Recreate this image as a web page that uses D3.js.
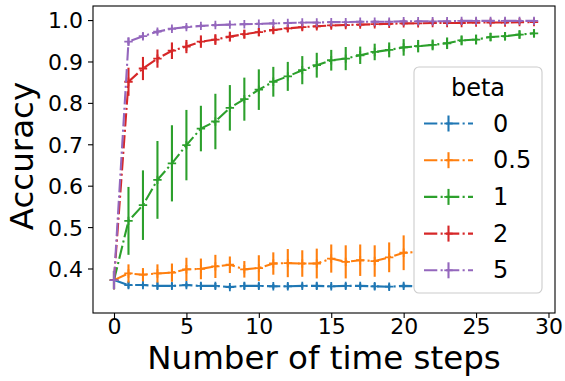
<!DOCTYPE html>
<html><head><meta charset="utf-8">
<script src="https://cdn.jsdelivr.net/npm/d3@7"></script>
<style>
html,body{margin:0;padding:0;background:#fff;}
svg{display:block;font-family:"DejaVu Sans",sans-serif;}
</style></head>
<body>
<svg id="chart" width="565" height="381"></svg>
<script>
const steps = [0,1,2,3,4,5,6,7,8,9,10,11,12,13,14,15,16,17,18,19,20,21,22,23,24,25,26,27,28,29];
const betaLabels = ["0","0.5","1","2","5"];
const colors = ["#1f77b4","#ff7f0e","#2ca02c","#d62728","#9467bd"];

const mean0 = [0.372,0.360,0.360,0.358,0.358,0.360,0.358,0.358,0.355,0.358,0.358,0.357,0.357,0.358,0.358,0.357,0.358,0.358,0.357,0.356,0.358,0.357,0.358,0.357,0.358,0.357,0.357,0.358,0.357,0.358];
const err0  = [0.022,0.008,0.006,0.008,0.007,0.006,0.008,0.007,0.005,0.008,0.007,0.006,0.007,0.006,0.008,0.006,0.007,0.006,0.008,0.007,0.006,0.007,0.006,0.007,0.006,0.007,0.006,0.007,0.006,0.007];

const mean05 = [0.372,0.388,0.385,0.388,0.390,0.398,0.399,0.405,0.409,0.398,0.401,0.412,0.413,0.412,0.412,0.424,0.416,0.420,0.418,0.427,0.438,0.440,0.444,0.447,0.450,0.452,0.455,0.458,0.460,0.462];
const err05  = [0.022,0.022,0.016,0.022,0.022,0.028,0.025,0.028,0.020,0.020,0.031,0.027,0.034,0.032,0.036,0.034,0.040,0.038,0.038,0.036,0.042,0.040,0.042,0.040,0.042,0.042,0.040,0.042,0.042,0.040];

const mean1 = [0.372,0.515,0.553,0.614,0.654,0.698,0.738,0.755,0.788,0.809,0.832,0.851,0.864,0.879,0.891,0.903,0.907,0.915,0.923,0.928,0.934,0.937,0.940,0.944,0.951,0.953,0.959,0.961,0.965,0.968];
const err1  = [0.022,0.082,0.084,0.094,0.092,0.085,0.055,0.067,0.055,0.052,0.049,0.036,0.035,0.034,0.030,0.025,0.028,0.021,0.020,0.018,0.020,0.015,0.013,0.014,0.012,0.012,0.010,0.010,0.010,0.010];

const mean2 = [0.372,0.851,0.883,0.907,0.926,0.936,0.948,0.953,0.960,0.966,0.971,0.976,0.980,0.983,0.985,0.987,0.988,0.989,0.990,0.991,0.992,0.992,0.993,0.993,0.993,0.994,0.994,0.994,0.995,0.995];
const err2  = [0.022,0.034,0.028,0.022,0.020,0.016,0.015,0.013,0.012,0.011,0.010,0.009,0.008,0.008,0.007,0.007,0.006,0.006,0.006,0.005,0.005,0.005,0.005,0.005,0.005,0.004,0.004,0.004,0.004,0.004];

const mean5 = [0.372,0.948,0.961,0.972,0.979,0.983,0.986,0.988,0.989,0.990,0.991,0.992,0.993,0.994,0.994,0.995,0.995,0.996,0.996,0.996,0.997,0.997,0.997,0.997,0.998,0.998,0.998,0.998,0.998,0.998];
const err5  = [0.022,0.010,0.008,0.006,0.005,0.005,0.004,0.004,0.003,0.003,0.003,0.003,0.003,0.003,0.003,0.003,0.003,0.003,0.003,0.003,0.003,0.003,0.003,0.003,0.003,0.003,0.003,0.003,0.003,0.003];

const xTicks = [0,5,10,15,20,25,30];
const yTicks = [0.4,0.5,0.6,0.7,0.8,0.9,1.0];

const series = [
  {label:betaLabels[0], color:colors[0], mean:mean0, err:err0},
  {label:betaLabels[1], color:colors[1], mean:mean05, err:err05},
  {label:betaLabels[2], color:colors[2], mean:mean1, err:err1},
  {label:betaLabels[3], color:colors[3], mean:mean2, err:err2},
  {label:betaLabels[4], color:colors[4], mean:mean5, err:err5}
];

const L = 93, R = 555, T = 6, B = 313;
const x = d3.scaleLinear().domain([-1.45, 30.45]).range([L, R]);
const y = d3.scaleLinear().domain([0.2925, 1.034]).range([B, T]);
const svg = d3.select("#chart");
const dash = "13.3,3.3,2.1,3.3";
const LW = 2.1;

svg.append("defs").append("clipPath").attr("id","clip")
  .append("rect").attr("x",L).attr("y",T).attr("width",R-L).attr("height",B-T);

const plot = svg.append("g").attr("clip-path","url(#clip)");
const line = d3.line().x((d,i)=>x(steps[i])).y(d=>y(d));

series.forEach(s => {
  const g = plot.append("g");
  g.append("path").attr("d", line(s.mean)).attr("fill","none")
    .attr("stroke", s.color).attr("stroke-width", LW).attr("stroke-dasharray", dash);
  g.selectAll("line.eb").data(s.mean).enter().append("line")
    .attr("x1",(d,i)=>x(steps[i])).attr("x2",(d,i)=>x(steps[i]))
    .attr("y1",(d,i)=>y(d - s.err[i])).attr("y2",(d,i)=>y(d + s.err[i]))
    .attr("stroke", s.color).attr("stroke-width", LW);
  g.selectAll("path.mk").data(s.mean).enter().append("path")
    .attr("d",(d,i)=>{const cx=x(steps[i]), cy=y(d), r=4.2;
      return `M${cx-r},${cy}H${cx+r}M${cx},${cy-r}V${cy+r}`;})
    .attr("stroke", s.color).attr("stroke-width", 1.8).attr("fill","none");
});

// axes
const xAxis = svg.append("g").attr("transform",`translate(0,${B})`)
  .call(d3.axisBottom(x).tickValues(xTicks).tickSize(5).tickPadding(4).tickFormat(d3.format("d")));
const yAxis = svg.append("g").attr("transform",`translate(${L},0)`)
  .call(d3.axisLeft(y).tickValues(yTicks).tickSize(5).tickPadding(5).tickFormat(d3.format(".1f")));
[xAxis,yAxis].forEach(a=>{
  a.select(".domain").remove();
  a.selectAll(".tick line").attr("stroke","#000").attr("stroke-width",1.1);
  a.selectAll(".tick text").attr("fill","#000").style("font-size","22px").style("font-family","DejaVu Sans");
});
xAxis.selectAll(".tick text").attr("y",21).attr("dy","0");
yAxis.selectAll(".tick text").attr("dy","0.36em");
svg.append("rect").attr("x",L).attr("y",T).attr("width",R-L).attr("height",B-T)
  .attr("fill","none").attr("stroke","#000").attr("stroke-width",1.1);

svg.append("text").attr("x",(L+R)/2).attr("y",369).attr("text-anchor","middle")
  .style("font-size","32.5px").text("Number of time steps");
svg.append("text").attr("transform",`translate(33,156) rotate(-90)`)
  .attr("text-anchor","middle").style("font-size","32.5px").text("Accuracy");

// legend
const lg = svg.append("g");
lg.append("rect").attr("x",414).attr("y",67).attr("width",128).attr("height",226).attr("rx",5)
  .attr("fill","#fff").attr("stroke","#cccccc").attr("stroke-width",1.1);
lg.append("text").attr("x",478).attr("y",96).attr("text-anchor","middle").style("font-size","24px").text("beta");
series.forEach((s,i)=>{
  const by = 131.5 + i*36.7;
  const cy = by - 8;
  lg.append("line").attr("x1",424).attr("x2",473).attr("y1",cy).attr("y2",cy)
    .attr("stroke",s.color).attr("stroke-width",LW).attr("stroke-dasharray",dash);
  lg.append("line").attr("x1",448.5).attr("x2",448.5).attr("y1",cy-8).attr("y2",cy+8)
    .attr("stroke",s.color).attr("stroke-width",LW);
  lg.append("path").attr("d",`M${448.5-4.2},${cy}H${448.5+4.2}`).attr("stroke",s.color).attr("stroke-width",1.8);
  lg.append("text").attr("x",493).attr("y",by).style("font-size","24px").text(s.label);
});
</script>
</body></html>
